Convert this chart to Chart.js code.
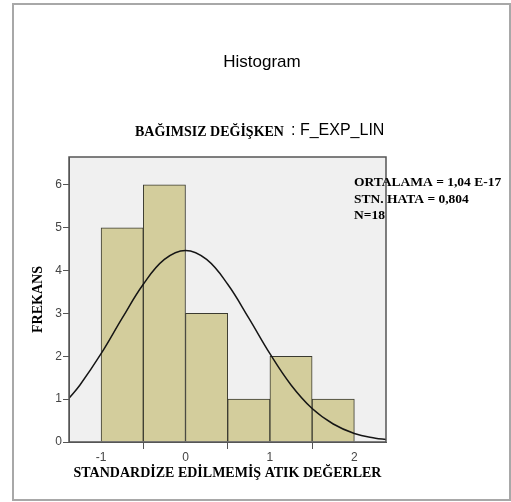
<!DOCTYPE html>
<html>
<head>
<meta charset="utf-8">
<script src="https://cdn.jsdelivr.net/npm/chart.js@4"></script>
<style>
  html, body { margin: 0; padding: 0; background: #fff; }
  #wrap { width: 511px; height: 502px; position: relative; }
</style>
</head>
<body>
<div id="wrap"><canvas id="histChart"></canvas></div>
<script>
  // histogram bins (centre of each 0.5-wide bin) and counts
  const binCenters = [-0.75, -0.25, 0.25, 0.75, 1.25, 1.75];
  const binCounts = [5, 6, 3, 1, 2, 1];

  // normal curve
  const curveX = [-1.38, -1.25, -1.0, -0.75, -0.5, -0.25, 0, 0.25, 0.5, 0.75, 1.0, 1.25, 1.5, 1.75, 2.0, 2.25, 2.375];
  const curveY = [1.02, 1.33, 2.06, 2.89, 3.68, 4.26, 4.47, 4.26, 3.68, 2.89, 2.06, 1.33, 0.78, 0.42, 0.20, 0.09, 0.06];

  const xTicks = [-1, 0, 1, 2];
  const yTicks = [0, 1, 2, 3, 4, 5, 6];

  const statLines = ['ORTALAMA = 1,04 E-17', 'STN. HATA = 0,804', 'N=18'];

  const serifBold = 'bold 14px "Liberation Serif", "Times New Roman", serif';
  const sans = '"Liberation Sans", Arial, sans-serif';

  const decorPlugin = {
    id: 'decor',
    beforeDraw(chart) {
      const { ctx, chartArea: a } = chart;
      ctx.save();
      ctx.fillStyle = '#f0f0f0';
      ctx.fillRect(a.left, a.top, a.right - a.left, a.bottom - a.top);
      ctx.restore();
    },
    afterDraw(chart) {
      const { ctx, chartArea: a } = chart;
      ctx.save();
      // outer frame
      ctx.strokeStyle = '#a8a8a8';
      ctx.lineWidth = 2;
      ctx.strokeRect(13, 4, 497, 496);
      // plot frame
      ctx.strokeStyle = '#555';
      ctx.lineWidth = 1.5;
      ctx.strokeRect(a.left, a.top, a.right - a.left, a.bottom - a.top);

      ctx.fillStyle = '#000';
      ctx.textBaseline = 'middle';
      ctx.textAlign = 'center';
      ctx.font = '17px ' + sans;
      ctx.fillText('Histogram', 262, 62);

      ctx.textAlign = 'left';
      ctx.font = serifBold;
      ctx.fillText('BAĞIMSIZ DEĞİŞKEN', 135, 132);
      ctx.font = '16px ' + sans;
      ctx.fillText(': F_EXP_LIN', 291, 131);

      ctx.font = serifBold;
      ctx.textAlign = 'center';
      ctx.fillText('STANDARDİZE EDİLMEMİŞ ATIK DEĞERLER', (a.left + a.right) / 2, 473);
      ctx.save();
      ctx.translate(38, (a.top + a.bottom) / 2);
      ctx.rotate(-Math.PI / 2);
      ctx.fillText('FREKANS', 0, 0);
      ctx.restore();

      ctx.textAlign = 'left';
      ctx.font = 'bold 13.5px "Liberation Serif", "Times New Roman", serif';
      statLines.forEach((s, i) => ctx.fillText(s, 354, 183 + i * 16.5));
      ctx.restore();
    }
  };

  const ctx = document.getElementById('histChart').getContext('2d');
  new Chart(ctx, {
    type: 'bar',
    data: {
      datasets: [{
        type: 'line',
        data: curveX.map((x, i) => ({ x: x, y: curveY[i] })),
        borderColor: '#151515',
        borderWidth: 1.5,
        pointRadius: 0,
        tension: 0.4,
        fill: false,
        order: 0
      }, {
        data: binCenters.map((x, i) => ({ x: x, y: binCounts[i] })),
        backgroundColor: '#d3cd9c',
        borderColor: '#3a3a30',
        borderWidth: 1,
        barPercentage: 1,
        categoryPercentage: 1,
        order: 1
      }]
    },
    options: {
      responsive: true,
      maintainAspectRatio: false,
      animation: false,
      layout: { padding: { top: 157, right: 125, left: 0, bottom: 0 } },
      plugins: { legend: { display: false }, tooltip: { enabled: false } },
      scales: {
        x: {
          type: 'linear',
          min: -1.38,
          max: 2.375,
          offset: false,
          afterBuildTicks: s => { s.ticks = xTicks.map(v => ({ value: v })); },
          afterFit: s => { s.height = 60; },
          grid: { drawOnChartArea: false, tickLength: 7, color: '#555' },
          border: { color: '#555' },
          ticks: { color: '#444', font: { family: sans, size: 12 }, padding: 1, maxRotation: 0 }
        },
        y: {
          min: 0,
          max: 6.65,
          afterBuildTicks: s => { s.ticks = yTicks.map(v => ({ value: v })); },
          afterFit: s => { s.width = 69; },
          grid: { drawOnChartArea: false, tickLength: 6, color: '#555' },
          border: { color: '#555' },
          ticks: { color: '#444', font: { family: sans, size: 12 }, padding: 1 }
        }
      }
    },
    plugins: [decorPlugin]
  });
</script>
</body>
</html>
